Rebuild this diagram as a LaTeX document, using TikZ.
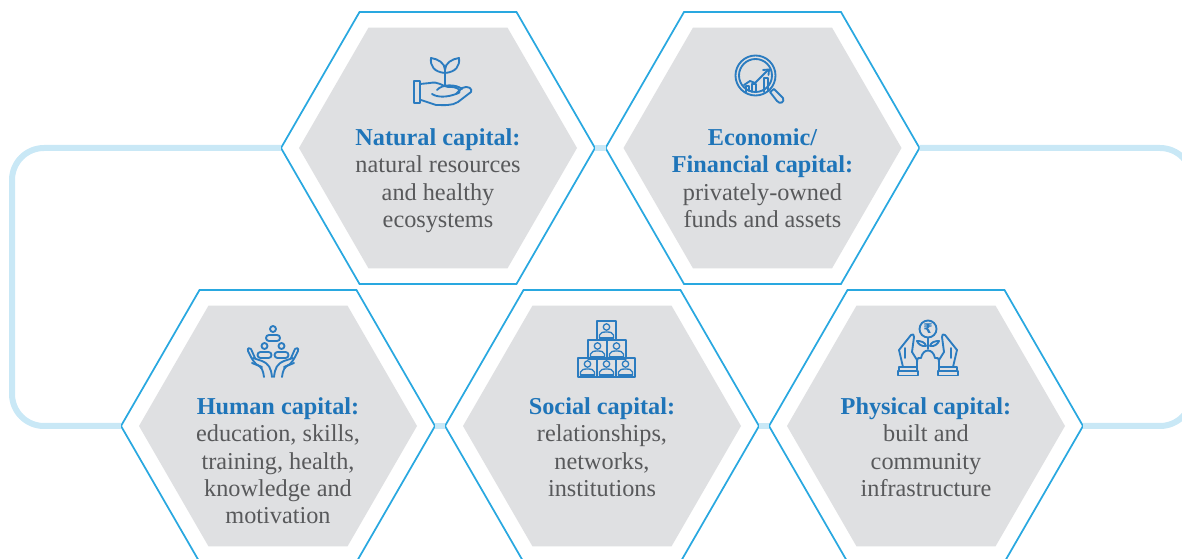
\documentclass[tikz,border=0pt]{standalone}
\usepackage{fontspec}
\setmainfont{Liberation Serif}
\newfontfamily\symbfont{DejaVu Sans}
\usetikzlibrary{shapes.geometric}
\definecolor{hexline}{HTML}{29A8E0}
\definecolor{hexlink}{HTML}{C9E8F6}
\definecolor{hexgrey}{HTML}{DFE0E2}
\definecolor{titleblue}{HTML}{1F75B9}
\definecolor{bodygrey}{HTML}{58595B}
\definecolor{iconblue}{HTML}{2B7CC0}
\tikzset{
  hexout/.style={regular polygon,regular polygon sides=6,minimum size=235.5pt,inner sep=0pt,outer sep=0pt,draw=hexline,line width=1.3pt,fill=white},
  hexin/.style={regular polygon,regular polygon sides=6,minimum size=208.5pt,inner sep=0pt,outer sep=0pt,fill=hexgrey},
  hexlabel/.style={anchor=north,align=center,inner sep=0pt,text=bodygrey,font=\fontsize{18.2}{20.6}\selectfont},
  hexlink/.style={draw=hexlink,line width=4.5pt},
  icon/.style={draw=iconblue,line width=1.4pt,line join=round,line cap=round}
}
\newcommand{\hd}[1]{\textcolor{titleblue}{\bfseries #1}}
\begin{document}
\begin{tikzpicture}[x=0.75pt,y=-0.75pt]
\useasboundingbox (0,0) rectangle (1182,559);
\clip (0,0) rectangle (1182,559);
\coordinate (loopleft) at (12,287);
\coordinate (loopright) at (1192,287);
\def\hex#1#2{
  \node[hexout] (hex#1) at #2 {};
  \node[hexin] (grey#1) at #2 {};
}
% Draw the two rows of hexagons
\hex{nat}{(438,148)}
\hex{eco}{(762.5,148)}
\hex{hum}{(278,426)}
\hex{soc}{(602,426)}
\hex{phy}{(926,426)}
% links go under the outlines only at their ends
\draw[hexlink,rounded corners=24pt] (hexnat.west) -| (loopleft) |- (hexhum.west);
\draw[hexlink,rounded corners=24pt] (hexeco.east) -| (loopright) |- (hexphy.east);
\draw[hexlink] (hexnat.east) -- (hexeco.west);
\draw[hexlink] (hexhum.east) -- (hexsoc.west);
\draw[hexlink] (hexsoc.east) -- (hexphy.west);
% Labels
\node[hexlabel] (labnat) at (438,128) {\hd{Natural capital:}\\natural resources\\and healthy\\ecosystems};
\node[hexlabel] (labeco) at (762.5,128) {\hd{Economic/}\\\hd{Financial capital:}\\privately-owned\\funds and assets};
\node[hexlabel] (labhum) at (278,397) {\hd{Human capital:}\\education, skills,\\training, health,\\knowledge and\\motivation};
\node[hexlabel] (labsoc) at (602,397) {\hd{Social capital:}\\relationships,\\networks,\\institutions};
\node[hexlabel] (labphy) at (926,397) {\hd{Physical capital:}\\built and\\community\\infrastructure};
% Natural: plant on a hand
\draw[icon] (445,85) -- (445,70);
\draw[icon] (445,73) .. controls (434,72) and (430,66) .. (431,58) .. controls (438,59) and (445,63) .. (445,70);
\draw[icon] (445,73) .. controls (456,72) and (460,66) .. (459,58) .. controls (452,59) and (445,63) .. (445,70);
\draw[icon] (414,81) rectangle (420,103);
\draw[icon] (420,84) -- (430,83) .. controls (438,81) and (442,86) .. (448,87) .. controls (458,86) and (464,92) .. (456,94)
  -- (462,88) .. controls (468,85) and (473,89) .. (471,92) -- (458,102) .. controls (452,106) and (444,105) .. (436,105) -- (421,100);
\draw[icon] (432,94) .. controls (438,98) and (448,97) .. (456,94);
\draw[icon] (437,90) .. controls (442,84) and (456,84) .. (462,89);
% Economic: magnifier over a chart
\draw[icon] (755.5,75.5) circle (20);
\draw[icon] (755.5,75.5) circle (16.5);
\draw[icon] (770,92) -- (774,89) -- (783,98) .. controls (785,102) and (780,105) .. (777,101) -- (770,92);
\foreach \bx/\by in {747.5/86,754/84,766/78}{
  \draw[icon] (\bx-1.8,92) -- (\bx-1.8,\by) -- (\bx+1.8,\by) -- (\bx+1.8,91);
}
\draw[icon] (744,85) -- (750,81) -- (755,83) -- (768,70);
\draw[icon] (763,70) -- (769,69.5) -- (768.5,75);
% Human: three people held by two hands
\foreach \hx/\hy in {273/329,264.5/346,281.5/346}{
  \draw[icon] (\hx,\hy) circle (3);
  \draw[icon,rounded corners=2.2pt] (\hx-7,\hy+6) rectangle (\hx+7,\hy+12);
}
\def\handpath{
  \draw[icon] (264,377) .. controls (263,370) and (262,367) .. (256,364) .. controls (252,360) and (250,355) .. (248,351) .. controls (247,348) and (250,347) .. (251,349) -- (255,358);
  \draw[icon] (272,377) .. controls (271,368) and (269,364) .. (262,361) -- (253,358);
  \draw[icon] (252,363) -- (262,367);
}
\handpath
\begin{scope}[shift={(546,0)},xscale=-1]
\handpath
\end{scope}
% Social: stacked boxes with a person each
\foreach \sx/\sy in {597/321,588/340,607/340,578/358,597/358,616/358}{
  \draw[icon,line width=1pt] (\sx,\sy) rectangle (\sx+19,\sy+19);
  \draw[icon,line width=1pt] (\sx+9.5,\sy+6) circle (3.2);
  \draw[icon,line width=1pt] (\sx+2.5,\sy+17) -- (\sx+2.5,\sy+14) .. controls (\sx+3,\sy+11.5) and (\sx+6,\sy+11) .. (\sx+9.5,\sy+11) .. controls (\sx+13,\sy+11) and (\sx+16,\sy+11.5) .. (\sx+16.5,\sy+14) -- (\sx+16.5,\sy+17);
  \draw[icon,line width=1pt] (\sx+2.5,\sy+17) -- (\sx+16.5,\sy+17);
}
% Physical: coin and plant between two hands
\draw[icon] (928,329) circle (8.5);
\node[inner sep=0pt,text=iconblue,font=\symbfont\bfseries\fontsize{10}{10}\selectfont] (rupee) at (928,329) {₹};
\draw[icon] (928,338) -- (928,349);
\draw[icon] (926,346) .. controls (922,347) and (918,344) .. (917,341) .. controls (921,341) and (925,342) .. (926,346);
\draw[icon] (930,346) .. controls (934,347) and (938,344) .. (939,341) .. controls (935,341) and (931,342) .. (930,346);
\draw[icon] (917,367) -- (917,362) .. controls (917,358) and (919,357) .. (921,358) .. controls (923,348) and (933,348) .. (935,358) .. controls (937,357) and (939,358) .. (939,362) -- (939,367);
\def\physhand{
  \draw[icon] (903,367) -- (899,350) -- (911,335) .. controls (913,333) and (914,335) .. (914,337) -- (912,352) -- (917,360) -- (917,367);
  \draw[icon] (905,348) -- (905,358);
  \draw[icon] (899,367) rectangle (917,371);
  \draw[icon] (898,371) rectangle (918,375.5);
}
\physhand
\begin{scope}[shift={(1856,0)},xscale=-1]
\physhand
\end{scope}
\end{tikzpicture}
\end{document}
